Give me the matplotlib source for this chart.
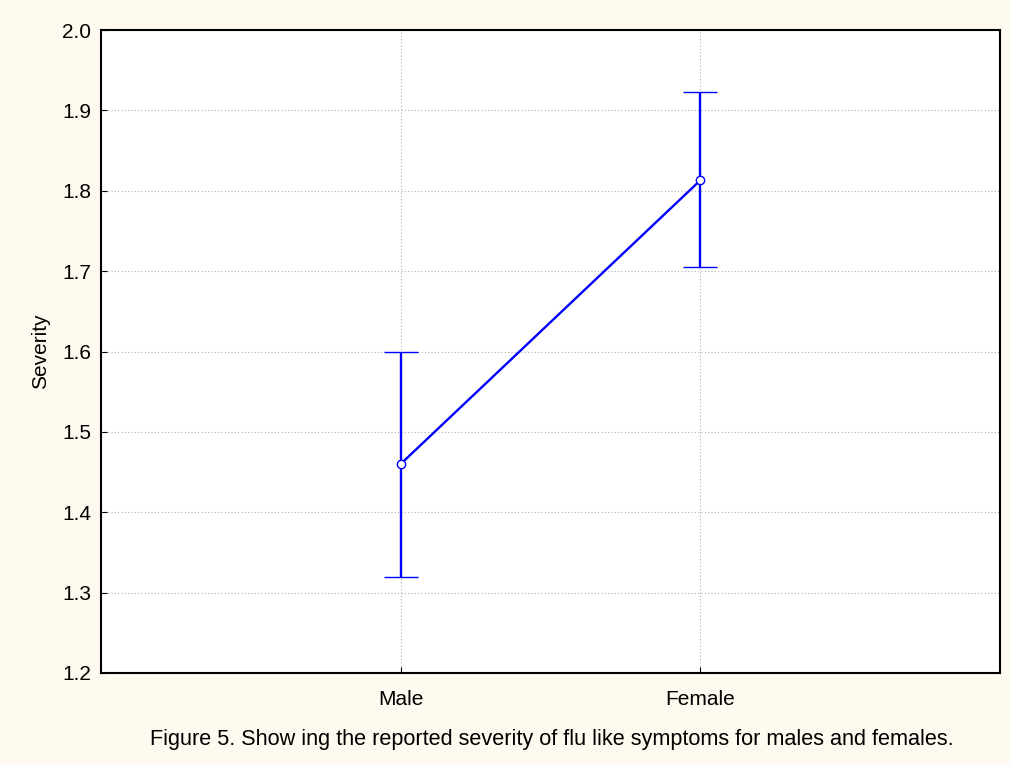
import matplotlib.pyplot as plt

plt.rcParams['font.family'] = ['Liberation Sans', 'DejaVu Sans']

groups = ["Male", "Female"]
means = [1.46, 1.813]
lower = [1.32, 1.705]
upper = [1.60, 1.923]
caption = "Figure 5. Show ing the reported severity of flu like symptoms for males and females."

bg = "#fefaef"
fig = plt.figure(figsize=(10.1, 7.64), dpi=100, facecolor=bg)
ax = fig.add_axes([101 / 1010, 1 - 673 / 764, 899 / 1010, 643 / 764])
ax.set_facecolor("white")

x = list(range(len(groups)))
yerr = [[m - l for m, l in zip(means, lower)], [u - m for m, u in zip(means, upper)]]
ax.errorbar(x, means, yerr=yerr, color="#0000ff", lw=1.7, capsize=12, capthick=1.7,
            marker="o", ms=6, mfc="white", mec="#0000ff", mew=1.0, zorder=3)

ax.set_xlim(-1, 2)
ax.set_ylim(1.2, 2.0)
ax.set_xticks(x)
ax.set_xticklabels(groups)
ax.set_yticks([1.2, 1.3, 1.4, 1.5, 1.6, 1.7, 1.8, 1.9, 2.0])
ax.grid(True, color="#b0b0b0", ls=(0, (1, 2)), lw=0.8)
ax.tick_params(direction="in", length=4, labelsize=15, pad=7)
ax.tick_params(axis="x", pad=12)
for s in ax.spines.values():
    s.set_linewidth(1.5)
ax.set_ylabel("Severity", fontsize=15, labelpad=9)

fig.text(0.546, 1 - 740 / 764, caption, ha="center", va="center", fontsize=15.6)

fig.savefig("out.png", dpi=100, facecolor=bg)
